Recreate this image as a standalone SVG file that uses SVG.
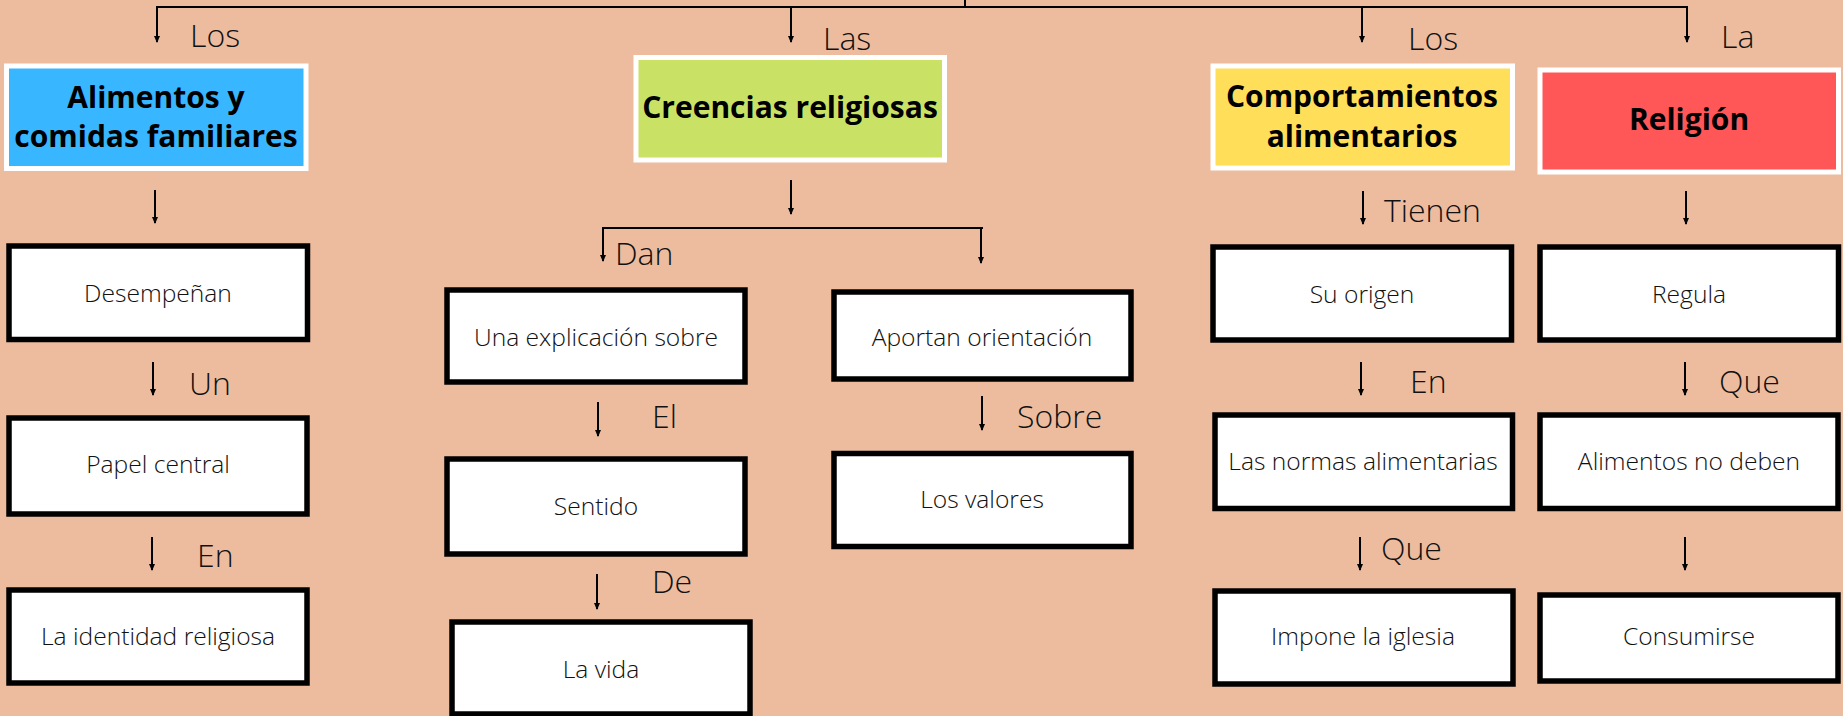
<svg xmlns="http://www.w3.org/2000/svg" width="1843" height="716" viewBox="0 0 1843 716">
<style>
.head{stroke:#ffffff;stroke-width:5}
.box{fill:#ffffff;stroke:#000000;stroke-width:5.5}
.ht{font-family:"Open Sans","Liberation Sans",sans-serif;font-weight:700;font-size:30px;fill:#000;text-anchor:middle}
.bt{font-family:"Open Sans","Liberation Sans",sans-serif;font-weight:300;font-size:24.6px;fill:#111;text-anchor:middle}
.lb{font-family:"Open Sans","Liberation Sans",sans-serif;font-weight:300;font-size:32px;fill:#111}
.ln{stroke:#000;stroke-width:2;fill:none}
.ar{stroke:#000;stroke-width:2;fill:none;marker-end:url(#ah)}
</style>
<defs>
<marker id="ah" markerUnits="userSpaceOnUse" markerWidth="8" markerHeight="8" refX="6" refY="3.5" orient="auto">
<path d="M0,0.5 L7,3.5 L0,6.5 z" fill="#000"/>
</marker>
</defs>
<rect x="0" y="0" width="1843" height="716" fill="#EDBC9F"/>

<g id="connectors">
<line class="ln" x1="965" y1="0" x2="965" y2="7"/>
<line class="ln" x1="156" y1="7" x2="1688" y2="7"/>
<line class="ar" x1="157" y1="7" x2="157" y2="42"/>
<line class="ar" x1="791" y1="7" x2="791" y2="42"/>
<line class="ar" x1="1362" y1="7" x2="1362" y2="42"/>
<line class="ar" x1="1687" y1="7" x2="1687" y2="42"/>
<line class="ar" x1="155" y1="190" x2="155" y2="223"/>
<line class="ar" x1="791" y1="180" x2="791" y2="214"/>
<line class="ln" x1="602" y1="228" x2="983" y2="228"/>
<line class="ar" x1="603" y1="228" x2="603" y2="261"/>
<line class="ar" x1="981" y1="228" x2="981" y2="263"/>
<line class="ar" x1="1363" y1="191" x2="1363" y2="224"/>
<line class="ar" x1="1686" y1="191" x2="1686" y2="224"/>
<line class="ar" x1="153" y1="362" x2="153" y2="395"/>
<line class="ar" x1="598" y1="402" x2="598" y2="436"/>
<line class="ar" x1="982" y1="396" x2="982" y2="430"/>
<line class="ar" x1="1361" y1="362" x2="1361" y2="395"/>
<line class="ar" x1="1685" y1="362" x2="1685" y2="395"/>
<line class="ar" x1="152" y1="537" x2="152" y2="570"/>
<line class="ar" x1="597" y1="574" x2="597" y2="609"/>
<line class="ar" x1="1360" y1="537" x2="1360" y2="570"/>
<line class="ar" x1="1685" y1="537" x2="1685" y2="570"/>
</g>

<g id="labels">
<text class="lb" x="190" y="47">Los</text>
<text class="lb" x="823" y="50">Las</text>
<text class="lb" x="1408" y="50">Los</text>
<text class="lb" x="1721" y="48">La</text>
<text class="lb" x="615" y="265">Dan</text>
<text class="lb" x="1384" y="222">Tienen</text>
<text class="lb" x="189" y="395">Un</text>
<text class="lb" x="652" y="428">El</text>
<text class="lb" x="1017" y="428">Sobre</text>
<text class="lb" x="1410" y="393">En</text>
<text class="lb" x="1719" y="393">Que</text>
<text class="lb" x="197" y="567">En</text>
<text class="lb" x="652" y="593">De</text>
<text class="lb" x="1381" y="560">Que</text>
</g>

<g id="n-alimentos">
<rect class="head" x="6.5" y="66" width="299.5" height="102.5" fill="#38B6FF"/>
<text class="ht" x="156" y="108">Alimentos y</text>
<text class="ht" x="156" y="147">comidas familiares</text>
</g>
<g id="n-creencias">
<rect class="head" x="636" y="57.5" width="308.5" height="102.5" fill="#C9E265"/>
<text class="ht" x="790" y="118">Creencias religiosas</text>
</g>
<g id="n-comportamientos">
<rect class="head" x="1213" y="66" width="299.5" height="102" fill="#FFDE59"/>
<text class="ht" x="1362" y="107">Comportamientos</text>
<text class="ht" x="1362" y="147">alimentarios</text>
</g>
<g id="n-religion">
<rect class="head" x="1540" y="70" width="298.5" height="102" fill="#FF5757"/>
<text class="ht" x="1689" y="130">Religión</text>
</g>

<g id="n-desempenan">
<rect class="box" x="9" y="246" width="298.5" height="93.5"/>
<text class="bt" x="158" y="302">Desempeñan</text>
</g>
<g id="n-papel">
<rect class="box" x="9" y="418" width="298" height="96"/>
<text class="bt" x="158" y="473">Papel central</text>
</g>
<g id="n-identidad">
<rect class="box" x="9" y="590" width="298" height="93"/>
<text class="bt" x="158" y="645">La identidad religiosa</text>
</g>
<g id="n-explicacion">
<rect class="box" x="447" y="290" width="298" height="92"/>
<text class="bt" x="596" y="346">Una explicación sobre</text>
</g>
<g id="n-sentido">
<rect class="box" x="447" y="459" width="298" height="95"/>
<text class="bt" x="596" y="515">Sentido</text>
</g>
<g id="n-vida">
<rect class="box" x="452" y="622" width="298" height="92"/>
<text class="bt" x="601" y="678">La vida</text>
</g>
<g id="n-aportan">
<rect class="box" x="834" y="292" width="297" height="87"/>
<text class="bt" x="982" y="346">Aportan orientación</text>
</g>
<g id="n-valores">
<rect class="box" x="834" y="453.5" width="297" height="93"/>
<text class="bt" x="982" y="508">Los valores</text>
</g>
<g id="n-origen">
<rect class="box" x="1213" y="247" width="298.5" height="93"/>
<text class="bt" x="1362" y="303">Su origen</text>
</g>
<g id="n-normas">
<rect class="box" x="1215" y="415" width="297.5" height="93.5"/>
<text class="bt" x="1363" y="470">Las normas alimentarias</text>
</g>
<g id="n-impone">
<rect class="box" x="1215" y="591" width="298" height="93"/>
<text class="bt" x="1363" y="645">Impone la iglesia</text>
</g>
<g id="n-regula">
<rect class="box" x="1540" y="247" width="298.5" height="93"/>
<text class="bt" x="1689" y="303">Regula</text>
</g>
<g id="n-alimentos-no">
<rect class="box" x="1540" y="415" width="298" height="93.5"/>
<text class="bt" x="1689" y="470">Alimentos no deben</text>
</g>
<g id="n-consumirse">
<rect class="box" x="1540" y="595" width="298" height="86"/>
<text class="bt" x="1689" y="645">Consumirse</text>
</g>
</svg>
